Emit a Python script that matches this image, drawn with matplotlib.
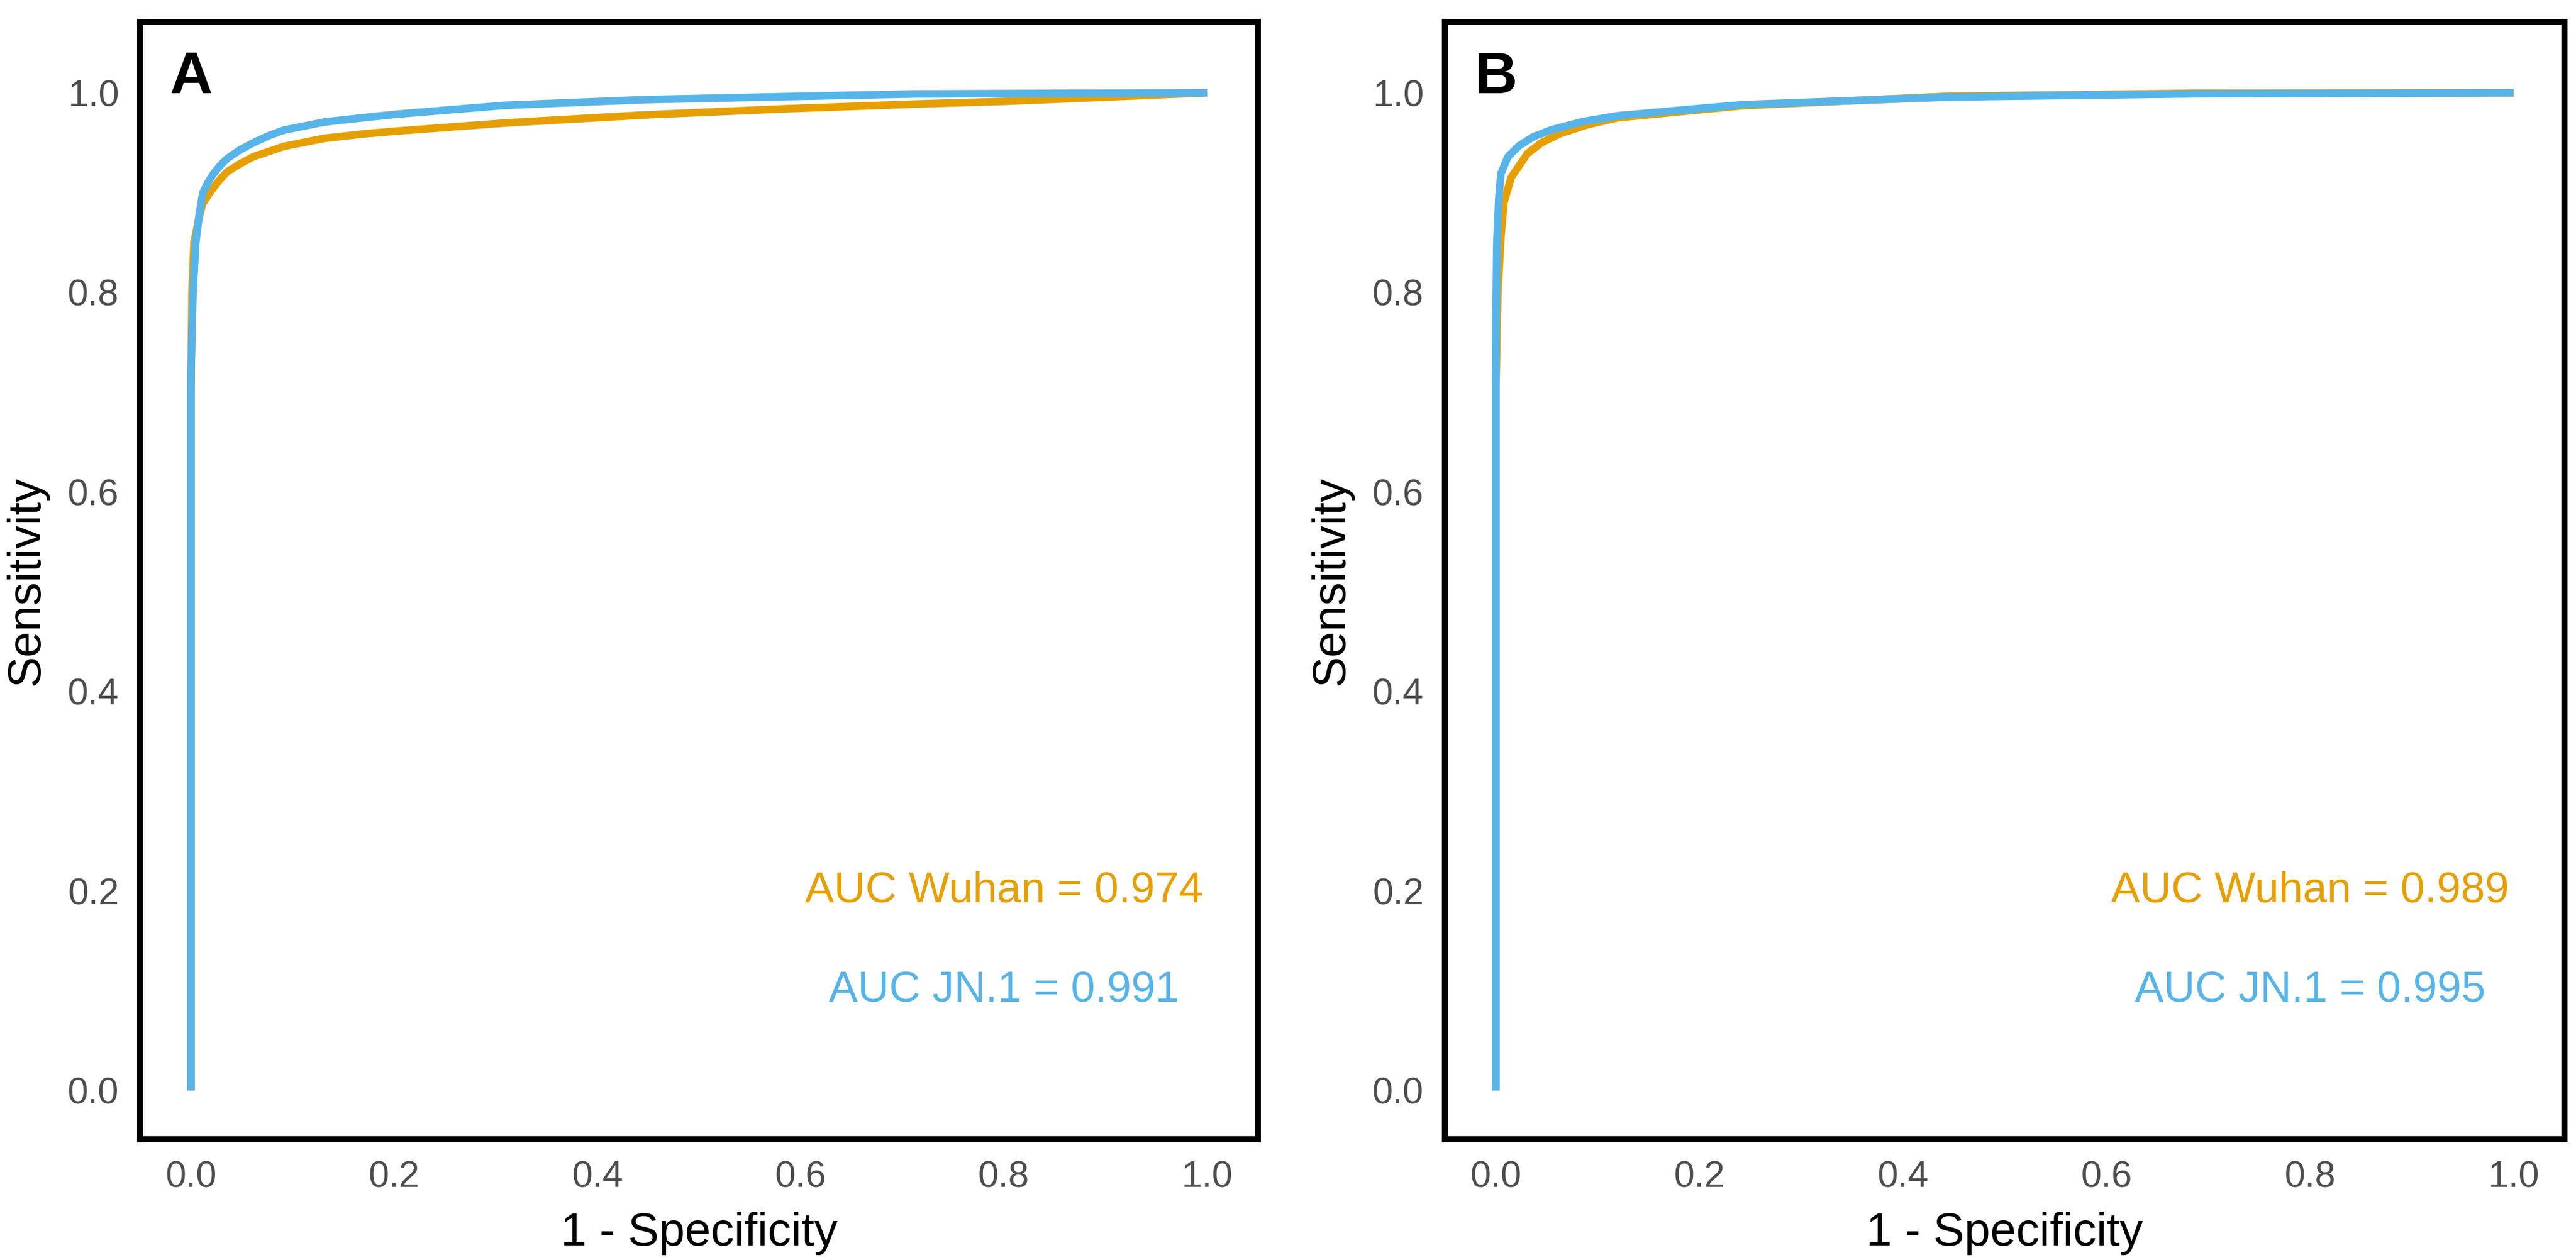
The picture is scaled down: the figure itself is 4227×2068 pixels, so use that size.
import matplotlib
matplotlib.use("Agg")
import matplotlib.pyplot as plt

plt.rcParams['font.family'] = ['Liberation Sans', 'DejaVu Sans']

# ---- data ----
panel_labels = ["A", "B"]

a_wuhan_fpr = [0.0, 0.0, 0.001, 0.003, 0.008, 0.0116, 0.0196, 0.0276, 0.0356, 0.0486, 0.0616,
               0.0915, 0.1315, 0.1715, 0.2014, 0.309, 0.4467, 0.5845, 0.711, 0.801, 1.0]
a_wuhan_tpr = [0.0, 0.70, 0.80, 0.85, 0.875, 0.889, 0.9015, 0.912, 0.9208, 0.929, 0.936,
               0.9463, 0.9544, 0.9589, 0.9615, 0.9697, 0.9778, 0.9839, 0.9886, 0.9914, 1.0]

a_jn1_fpr = [0.0, 0.0, 0.002, 0.0046, 0.008, 0.0116, 0.0166, 0.0216, 0.0286, 0.0356, 0.0486,
             0.0616, 0.0765, 0.0915, 0.1315, 0.1715, 0.2014, 0.309, 0.4467, 0.5845, 0.711,
             0.801, 1.0]
a_jn1_tpr = [0.0, 0.72, 0.80, 0.849, 0.877, 0.8995, 0.910, 0.918, 0.927, 0.934, 0.943,
             0.950, 0.957, 0.9626, 0.9707, 0.9752, 0.9784, 0.9874, 0.9931, 0.9961, 0.9988,
             0.9992, 1.0]

b_wuhan_fpr = [0.0, 0.0, 0.002, 0.005, 0.008, 0.015, 0.031, 0.045, 0.063, 0.09, 0.120,
               0.242, 0.445, 0.688, 1.0]
b_wuhan_tpr = [0.0, 0.70, 0.80, 0.855, 0.890, 0.915, 0.939, 0.950, 0.959, 0.968, 0.975,
               0.987, 0.9965, 0.9995, 1.0]

b_jn1_fpr = [0.0, 0.0, 0.001, 0.003, 0.005, 0.012, 0.023, 0.037, 0.055, 0.085, 0.120,
             0.242, 0.445, 0.688, 1.0]
b_jn1_tpr = [0.0, 0.75, 0.85, 0.895, 0.919, 0.936, 0.947, 0.956, 0.963, 0.971, 0.977,
             0.988, 0.9957, 0.999, 1.0]

auc_wuhan = [0.974, 0.989]
auc_jn1 = [0.991, 0.995]

ticks = [0.0, 0.2, 0.4, 0.6, 0.8, 1.0]

c_wuhan = "#E69F00"
c_jn1 = "#56B4E9"

W, H, DPI = 4227, 2068, 250
fig = plt.figure(figsize=(W / DPI, H / DPI), dpi=DPI)

positions = [[230 / W, 1 - 1870 / H, 1834 / W, 1834 / H],
             [2371 / W, 1 - 1870 / H, 1837 / W, 1834 / H]]

curves = [((a_wuhan_fpr, a_wuhan_tpr), (a_jn1_fpr, a_jn1_tpr)),
          ((b_wuhan_fpr, b_wuhan_tpr), (b_jn1_fpr, b_jn1_tpr))]

for i in range(2):
    ax = fig.add_axes(positions[i])
    (wx, wy), (jx, jy) = curves[i]
    ax.plot(wx, wy, color=c_wuhan, lw=3.6, solid_joinstyle='round', solid_capstyle='butt')
    ax.plot(jx, jy, color=c_jn1, lw=3.6, solid_joinstyle='round', solid_capstyle='butt')
    ax.set_xlim(-0.05, 1.05)
    ax.set_ylim(-0.049, 1.071)
    ax.set_xticks(ticks)
    ax.set_yticks(ticks)
    ax.set_xticklabels([f"{t:.1f}" for t in ticks])
    ax.set_yticklabels([f"{t:.1f}" for t in ticks])
    ax.tick_params(length=0, pad=10, labelsize=17.5, labelcolor="#4D4D4D")
    for s in ax.spines.values():
        s.set_linewidth(2.9)
        s.set_color("black")
    ax.set_xlabel("1 - Specificity", fontsize=22, labelpad=8)
    ax.set_ylabel("Sensitivity", fontsize=22, labelpad=9)
    ax.text(0.0, 1.015, panel_labels[i], fontsize=28, fontweight='bold',
            ha='center', va='center', color='black')
    ax.text(0.8, 0.2, f"AUC Wuhan = {auc_wuhan[i]:.3f}", color=c_wuhan,
            fontsize=20.5, ha='center', va='center')
    ax.text(0.8, 0.1, f"AUC JN.1 = {auc_jn1[i]:.3f}", color=c_jn1,
            fontsize=20.5, ha='center', va='center')

fig.savefig("out.png", dpi=DPI, facecolor="white")
